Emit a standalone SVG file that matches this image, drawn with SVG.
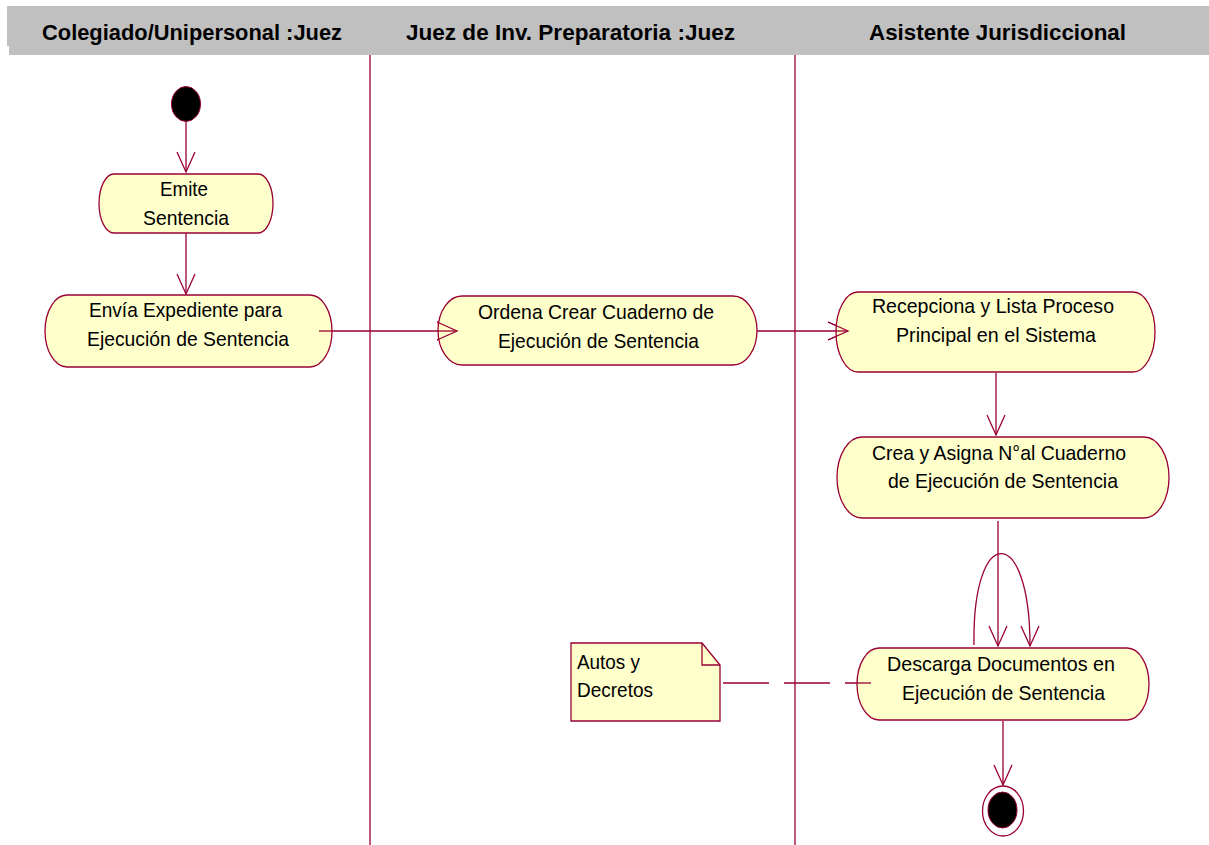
<svg xmlns="http://www.w3.org/2000/svg" width="1209" height="845" viewBox="0 0 1209 845">
<style>
.hdr{font-family:"Liberation Sans",Arial,sans-serif;font-weight:bold;font-size:22px;fill:#000}
.t{font-family:"Liberation Sans",Arial,sans-serif;font-size:21px;fill:#000}
.act{fill:#FFFFCC;stroke:#990033;stroke-width:1.3}
.ln{fill:none;stroke:#990033;stroke-width:1.3}
.lane{stroke:#990033;stroke-width:1.3}
</style>
<defs>
<marker id="arr" markerUnits="userSpaceOnUse" markerWidth="24" markerHeight="24" viewBox="-22 -11 24 22" refX="0" refY="0" orient="auto">
<path d="M-20,-9 L0,0 L-20,9" fill="none" stroke="#990033" stroke-width="1.3"/>
</marker>
</defs>
<rect width="1209" height="845" fill="#FFFFFF"/>
<g id="header">
<path d="M7,6 H1209 V55 H9 V46 H7 Z" fill="#C0C0C0"/>
<text class="hdr" x="42" y="40" textLength="300" lengthAdjust="spacingAndGlyphs">Colegiado/Unipersonal :Juez</text>
<text class="hdr" x="406" y="40" textLength="329" lengthAdjust="spacingAndGlyphs">Juez de Inv. Preparatoria :Juez</text>
<text class="hdr" x="869" y="40" textLength="257" lengthAdjust="spacingAndGlyphs">Asistente Jurisdiccional</text>
</g>
<g id="lanes">
<line class="lane" x1="370" y1="55" x2="370" y2="845"/>
<line class="lane" x1="795" y1="55" x2="795" y2="845"/>
</g>
<g id="connectors">
<line class="ln" x1="186" y1="122" x2="186" y2="172" marker-end="url(#arr)"/>
<line class="ln" x1="186" y1="233" x2="186" y2="294" marker-end="url(#arr)"/>
<line class="ln" x1="319" y1="331" x2="457" y2="331" marker-end="url(#arr)"/>
<line class="ln" x1="740" y1="331" x2="848" y2="331" marker-end="url(#arr)"/>
<line class="ln" x1="996" y1="373" x2="996" y2="435" marker-end="url(#arr)"/>
<line class="ln" x1="998" y1="521" x2="998" y2="646" marker-end="url(#arr)"/>
<path class="ln" d="M974,645 C972,523 1030,523 1030,646" marker-end="url(#arr)"/>
<line class="ln" x1="1003" y1="721" x2="1003" y2="785" marker-end="url(#arr)"/>
<line class="ln" x1="723" y1="683" x2="871" y2="683" stroke-dasharray="46 15"/>
</g>
<g id="start">
<ellipse cx="186" cy="104" rx="14.5" ry="17.5" fill="#000" stroke="#990033" stroke-width="1"/>
</g>
<g id="emite">
<path class="act" d="M114,174 H258 A15 29.5 0 0 1 258,233 H114 A15 29.5 0 0 1 114,174 Z"/>
<text class="t" x="160" y="196" textLength="48" lengthAdjust="spacingAndGlyphs">Emite</text>
<text class="t" x="143" y="225" textLength="86" lengthAdjust="spacingAndGlyphs">Sentencia</text>
</g>
<g id="envia">
<path class="act" d="M67,295 H310 A22 36 0 0 1 310,367 H67 A22 36 0 0 1 67,295 Z"/>
<text class="t" x="89" y="317" textLength="193" lengthAdjust="spacingAndGlyphs">Envía Expediente para</text>
<text class="t" x="87" y="346" textLength="202" lengthAdjust="spacingAndGlyphs">Ejecución de Sentencia</text>
</g>
<g id="ordena">
<path class="act" d="M462,296 H733 A24 34.5 0 0 1 733,365 H462 A24 34.5 0 0 1 462,296 Z"/>
<text class="t" x="478" y="319" textLength="236" lengthAdjust="spacingAndGlyphs">Ordena Crear Cuaderno de</text>
<text class="t" x="498" y="348" textLength="201" lengthAdjust="spacingAndGlyphs">Ejecución de Sentencia</text>
</g>
<g id="recepciona">
<path class="act" d="M858,292 H1133 A22 40 0 0 1 1133,372 H858 A22 40 0 0 1 858,292 Z"/>
<text class="t" x="872" y="313" textLength="242" lengthAdjust="spacingAndGlyphs">Recepciona y Lista Proceso</text>
<text class="t" x="896" y="342" textLength="200" lengthAdjust="spacingAndGlyphs">Principal en el Sistema</text>
</g>
<g id="crea">
<path class="act" d="M862,437 H1144 A25 40.5 0 0 1 1144,518 H862 A25 40.5 0 0 1 862,437 Z"/>
<text class="t" x="872" y="460" textLength="254" lengthAdjust="spacingAndGlyphs">Crea y Asigna N°al Cuaderno</text>
<text class="t" x="888" y="488" textLength="230" lengthAdjust="spacingAndGlyphs">de Ejecución de Sentencia</text>
</g>
<g id="descarga">
<path class="act" d="M879,648 H1127 A22 36 0 0 1 1127,720 H879 A22 36 0 0 1 879,648 Z"/>
<text class="t" x="887" y="671" textLength="228" lengthAdjust="spacingAndGlyphs">Descarga Documentos en</text>
<text class="t" x="902" y="700" textLength="203" lengthAdjust="spacingAndGlyphs">Ejecución de Sentencia</text>
</g>
<g id="connector-ends">
<line class="ln" x1="319" y1="331" x2="332" y2="331"/>
<line class="ln" x1="438" y1="331" x2="457" y2="331" marker-end="url(#arr)"/>
<line class="ln" x1="836" y1="331" x2="848" y2="331" marker-end="url(#arr)"/>
<line class="ln" x1="857" y1="683" x2="871" y2="683"/>
</g>
<g id="final">
<ellipse cx="1003" cy="811" rx="20.5" ry="25" fill="#FFFFFF" stroke="#990033" stroke-width="1.3"/>
<ellipse cx="1002.5" cy="810" rx="14.5" ry="18" fill="#000" stroke="#990033" stroke-width="1"/>
</g>
<g id="note">
<path d="M571,643 H702 L720,665 V721 H571 Z" fill="#FFFFCC" stroke="#990033" stroke-width="1.3"/>
<path d="M702,643 V665 H720" fill="none" stroke="#990033" stroke-width="1.3"/>
<text class="t" x="577" y="669" textLength="63" lengthAdjust="spacingAndGlyphs">Autos y</text>
<text class="t" x="577" y="697" textLength="76" lengthAdjust="spacingAndGlyphs">Decretos</text>
</g>
</svg>
